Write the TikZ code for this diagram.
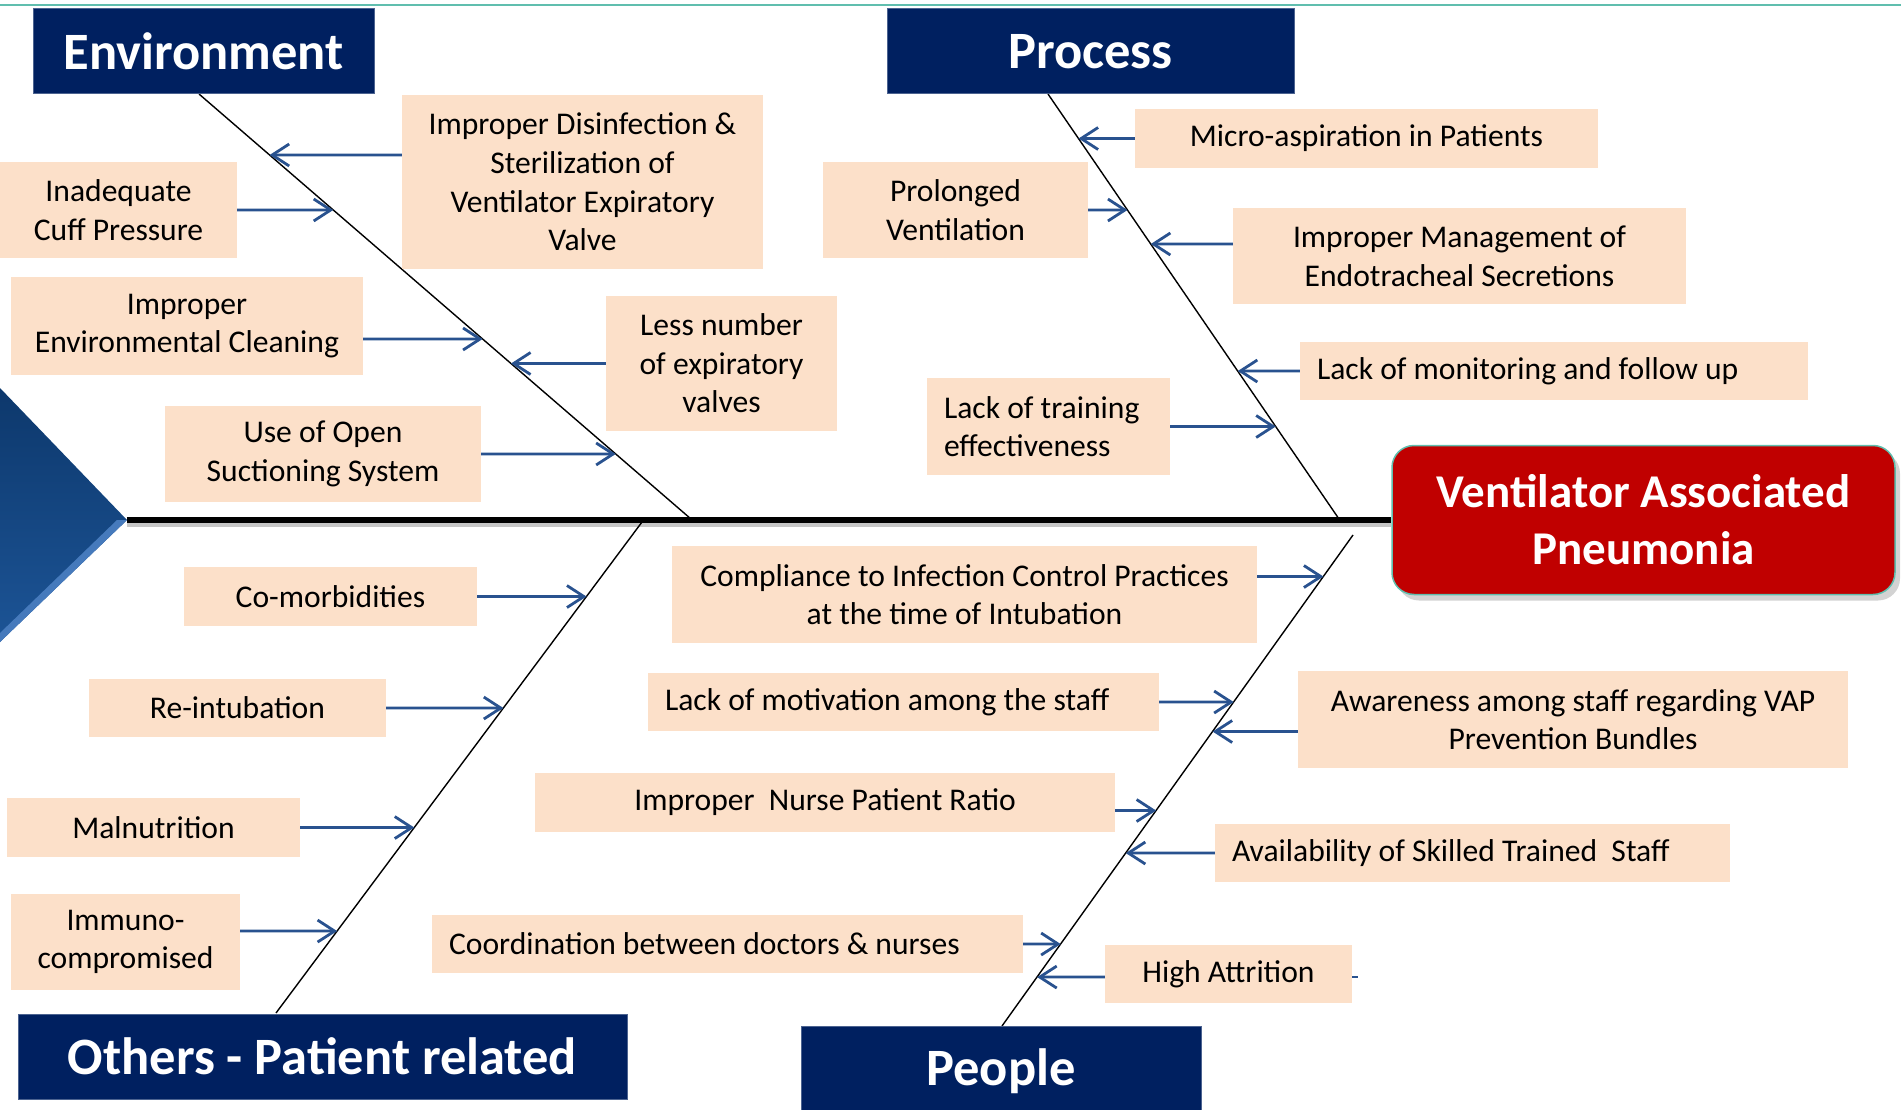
\documentclass[tikz,border=0pt]{standalone}
\usepackage{fontspec}
\setmainfont{Carlito}
\usetikzlibrary{arrows.meta,shadows}

\definecolor{causefill}{RGB}{252,224,201}
\definecolor{catblue}{RGB}{0,32,96}
\definecolor{effectred}{RGB}{192,0,0}
\definecolor{arrowblue}{RGB}{41,82,143}
\definecolor{lineteal}{RGB}{96,190,174}
\definecolor{tailtop}{RGB}{13,56,108}
\definecolor{tailbot}{RGB}{28,84,150}
\definecolor{tailbevel}{RGB}{70,122,188}

\tikzset{every picture/.style={
  >={Straight Barb[length=17pt,width=22pt]}   % open V arrow heads.
  }
}

% Arrow from a cause box (#2, side #3) to its bone (#4), shifted by #1.
\newcommand{\causeto}[4][0pt]{%
  \coordinate (#2s) at ([yshift=#1]#2.#3);
  \coordinate (#2c) at ([yshift=#1]#2.center);
  \draw[causearrow] (#2s) -- (intersection of #2s--#2c and #4top--#4bot);
}

\begin{document}
\begin{tikzpicture}[
    x=1pt,
    y=-1pt,
    cause/.style={
      rectangle,
      fill=causefill,
      inner sep=0pt,
      align=center,
      font=\fontsize{31.6pt}{38.6pt}\selectfont
    },
    causeleft/.style={
      cause,
      align=flush left,
      inner xsep=17pt
    },
    category/.style={
      rectangle,
      fill=catblue,
      draw=catblue!70!white,
      line width=1pt,
      inner sep=0pt,
      minimum height=85pt,
      text=white,
      font=\fontsize{52.5pt}{60pt}\selectfont\bfseries
    },
    effect/.style={
      rectangle,
      rounded corners=22pt,
      fill=effectred,
      draw=lineteal,
      line width=1.5pt,
      drop shadow={shadow xshift=5pt,shadow yshift=-6pt,opacity=0.35},
      text=white,
      align=center,
      inner sep=0pt,
      font=\fontsize{47pt}{57pt}\selectfont\bfseries
    },
    bone/.style={draw=black, line width=1.4pt},
    spine/.style={draw=black, line width=6pt},
    causearrow/.style={draw=arrowblue, line width=2.8pt, ->}
  ]
  \useasboundingbox (0,0) rectangle (1901,1110);

  % Top rule and fish tail.
  \draw[lineteal, line width=2.5pt] (0,5) -- (1901,5);
  \shade[top color=tailtop, bottom color=tailbot]
    (0,388) -- (127,520) -- (0,642) -- cycle;
  \fill[tailbevel] (127,520) -- (0,642) -- (0,633) -- (117,520) -- cycle;
  \coordinate (tip) at (127,520);

  % Effect and spine.
  \node[effect, minimum width=503pt, minimum height=149pt] (vap)
    at (1643.5,520) {Ventilator Associated\\Pneumonia};
  \draw[gray!45, line width=4pt] ([yshift=-5pt]tip) -- ([yshift=-5pt]vap.west);
  \draw[spine] (tip) -- (vap.west);

  % Bones.
  \coordinate (envtop)  at (199,94);
  \coordinate (envbot)  at (691,519);
  \coordinate (proctop) at (1048,94);
  \coordinate (procbot) at (1339,519);
  \coordinate (othtop)  at (642,522);
  \coordinate (othbot)  at (276,1013);
  \coordinate (peotop)  at (1353,535);
  \coordinate (peobot)  at (1002,1026);
  \draw[bone] (envtop) -- (envbot);
  \draw[bone] (proctop) -- (procbot);
  \draw[bone] (othtop) -- (othbot);
  \draw[bone] (peotop) -- (peobot);

  % Categories.
  \node[category, minimum width=341pt] (env) at (203.5,51.5) {Environment};
  \node[category, minimum width=407pt] (proc) at (1090.5,51.5) {Process};
  \node[category, minimum width=609pt] (oth) at (322.5,1056.5)
    {Others - Patient related};
  \node[category, minimum width=400pt, minimum height=90pt] (peo)
    at (1001,1071) {People};

  % Environment causes.
  \node[cause, minimum width=361pt, minimum height=174pt] (dis) at (582.5,182)
    {Improper Disinfection \&\\Sterilization of\\Ventilator Expiratory\\Valve};
  \node[cause, minimum width=237pt, minimum height=96pt] (cuff) at (118.5,210)
    {Inadequate\\Cuff Pressure};
  \node[cause, minimum width=352pt, minimum height=98pt] (clean) at (187,326)
    {Improper\\Environmental Cleaning};
  \node[cause, minimum width=231pt, minimum height=135pt] (valves) at (721.5,363.5)
    {Less number\\of expiratory\\valves};
  \node[cause, minimum width=316pt, minimum height=96pt] (suction) at (323,454)
    {Use of Open\\Suctioning System};
  \causeto[27pt]{dis}{west}{env}
  \causeto{cuff}{east}{env}
  \causeto[-13pt]{clean}{east}{env}
  \causeto{valves}{west}{env}
  \causeto{suction}{east}{env}

  % Process causes.
  \node[cause, minimum width=463pt, minimum height=59pt] (micro) at (1366.5,138.5)
    {Micro-aspiration in Patients};
  \node[cause, minimum width=265pt, minimum height=96pt] (prolong) at (955.5,210)
    {Prolonged\\Ventilation};
  \node[cause, minimum width=453pt, minimum height=96pt] (secr) at (1459.5,256)
    {Improper Management of\\Endotracheal Secretions};
  \node[causeleft, text width=474pt, minimum height=58pt] (monitor) at (1554,371)
    {Lack of monitoring and follow up};
  \node[causeleft, text width=209pt, minimum height=97pt] (training) at (1048.5,426.5)
    {Lack of training\\effectiveness};
  \causeto{micro}{west}{proc}
  \causeto{prolong}{east}{proc}
  \causeto[12pt]{secr}{west}{proc}
  \causeto{monitor}{west}{proc}
  \causeto{training}{east}{proc}

  % Patient related causes.
  \node[cause, minimum width=293pt, minimum height=59pt] (comorb) at (330.5,596.5)
    {Co-morbidities};
  \node[cause, minimum width=297pt, minimum height=58pt] (reint) at (237.5,708)
    {Re-intubation};
  \node[cause, minimum width=293pt, minimum height=59pt] (malnut) at (153.5,827.5)
    {Malnutrition};
  \node[cause, minimum width=229pt, minimum height=96pt] (immuno) at (125.5,942)
    {Immuno-\\compromised};
  \causeto{comorb}{east}{oth}
  \causeto{reint}{east}{oth}
  \causeto{malnut}{east}{oth}
  \causeto[11pt]{immuno}{east}{oth}

  % People causes.
  \node[cause, minimum width=585pt, minimum height=97pt] (compl) at (964.5,594.5)
    {Compliance to Infection Control Practices\\at the time of Intubation};
  \node[causeleft, text width=477pt, minimum height=58pt] (motiv) at (903.5,702)
    {Lack of motivation among the staff};
  \node[cause, minimum width=550pt, minimum height=97pt] (aware) at (1573,719.5)
    {Awareness among staff regarding VAP\\Prevention Bundles};
  \node[cause, minimum width=580pt, minimum height=59pt] (nurse) at (825,802.5)
    {Improper\ \ Nurse Patient Ratio};
  \node[causeleft, text width=481pt, minimum height=58pt] (skill) at (1472.5,853)
    {Availability of Skilled Trained\ \ Staff};
  \node[causeleft, text width=557pt, minimum height=58pt] (coord) at (727.5,944)
    {Coordination between doctors \& nurses};
  \node[cause, minimum width=247pt, minimum height=58pt] (attr) at (1228.5,974)
    {High Attrition};
  \causeto[18pt]{compl}{east}{peo}
  \causeto{motiv}{east}{peo}
  \causeto[-12pt]{aware}{west}{peo}
  \causeto[-8pt]{nurse}{east}{peo}
  \causeto{skill}{west}{peo}
  \causeto{coord}{east}{peo}
  \causeto[-3pt]{attr}{west}{peo}
  \coordinate (attrstub) at ([xshift=6pt,yshift=-3pt]attr.east);
  \draw[draw=arrowblue, line width=2.8pt] ([yshift=-3pt]attr.east) -- (attrstub);
\end{tikzpicture}
\end{document}
